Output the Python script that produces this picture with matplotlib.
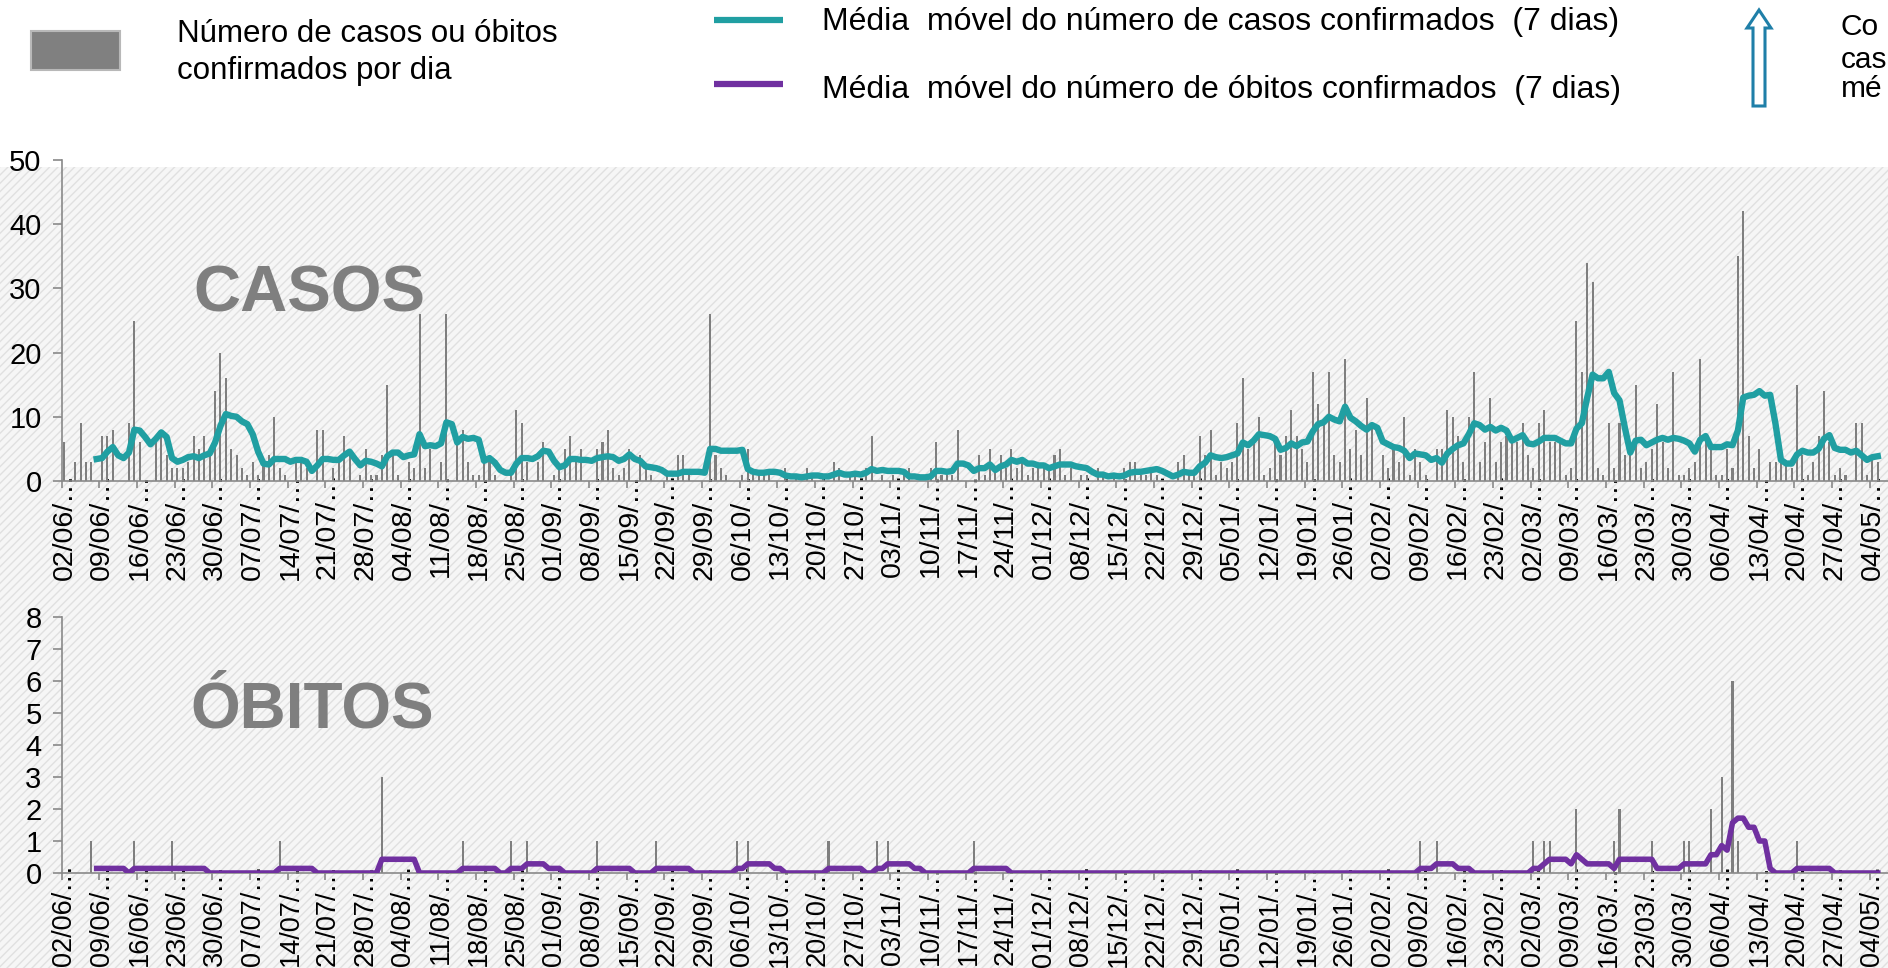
import numpy as np
import pandas as pd
import matplotlib
matplotlib.use('Agg')
import matplotlib.pyplot as plt
from matplotlib.patches import Rectangle, Polygon
from matplotlib.lines import Line2D

plt.rcParams['font.family'] = ['Liberation Sans', 'DejaVu Sans']
plt.rcParams['hatch.linewidth'] = 1.0

start_date = '2020-06-02'

# confirmed cases per day, one row per week (row date = first day)
cases = [
    6, 0, 3, 9, 3, 3, 0,        # 02/06
    7, 7, 8, 0, 0, 9, 25,       # 09/06
    6, 0, 0, 6, 7, 4, 2,        # 16/06
    2, 2, 3, 7, 5, 7, 4,        # 23/06
    14, 20, 16, 5, 4, 2, 1,     # 30/06
    3, 1, 3, 4, 10, 2, 1,       # 07/07
    0, 3, 3, 2, 0, 8, 8,        # 14/07
    0, 2, 3, 7, 4, 0, 1,        # 21/07
    5, 1, 1, 4, 15, 4, 1,       # 28/07
    0, 3, 2, 26, 2, 5, 0,       # 04/08
    3, 26, 0, 6, 8, 3, 1,       # 11/08
    1, 3, 3, 1, 0, 0, 1,        # 18/08
    11, 9, 3, 0, 3, 6, 0,       # 25/08
    1, 2, 5, 7, 3, 5, 0,        # 01/09
    0, 5, 6, 8, 2, 1, 2,        # 08/09
    5, 0, 4, 2, 1, 0, 0,        # 15/09
    1, 0, 4, 4, 1, 0, 0,        # 22/09
    0, 26, 4, 2, 1, 0, 0,       # 29/09
    1, 5, 1, 1, 1, 1, 0,        # 06/10
    0, 2, 0, 1, 0, 2, 1,        # 13/10
    0, 1, 0, 3, 2, 0, 1,        # 20/10
    1, 0, 2, 7, 0, 1, 0,        # 27/10
    1, 0, 1, 2, 0, 0, 0,        # 03/11
    2, 6, 1, 1, 1, 8, 0,        # 10/11
    0, 0, 4, 1, 5, 2, 4,        # 17/11
    2, 5, 2, 3, 1, 2, 2,        # 24/11
    2, 2, 4, 5, 1, 2, 0,        # 01/12
    1, 1, 0, 2, 1, 0, 1,        # 08/12
    0, 2, 3, 3, 1, 1, 2,        # 15/12
    1, 0, 0, 0, 3, 4, 1,        # 22/12
    1, 7, 4, 8, 1, 3, 2,        # 29/12
    3, 9, 16, 5, 6, 10, 1,      # 05/01
    2, 6, 4, 7, 11, 7, 5,       # 12/01
    3, 17, 12, 9, 17, 4, 3,     # 19/01
    19, 5, 8, 4, 13, 9, 0,      # 26/01
    4, 2, 5, 3, 10, 1, 5,       # 02/02
    3, 1, 0, 5, 5, 11, 10,      # 09/02
    7, 3, 10, 17, 3, 6, 13,     # 16/02
    3, 6, 7, 6, 6, 9, 4,        # 23/02
    2, 9, 11, 6, 6, 6, 1,       # 02/03
    2, 25, 17, 34, 31, 2, 1,    # 09/03
    9, 2, 9, 4, 4, 15, 2,       # 16/03
    3, 5, 12, 6, 2, 17, 1,      # 23/03
    1, 2, 3, 19, 6, 5, 1,       # 30/03
    1, 5, 2, 35, 42, 7, 2,      # 06/04
    5, 0, 3, 3, 3, 3, 2,        # 13/04
    15, 4, 1, 3, 7, 14, 6,      # 20/04
    1, 2, 1, 0, 9, 9, 1,        # 27/04
    4, 3,                       # 04/05
]

# confirmed deaths: day index (from 02/06/2020) and count
death_days = [5, 13, 20, 40, 59, 74, 83, 86, 99, 110, 125, 127, 142, 151, 153, 169,
              252, 255, 273, 275, 276, 281, 288, 289, 295, 301, 302, 306, 308, 310, 311, 322]
death_counts = [1, 1, 1, 1, 3, 1, 1, 1, 1, 1, 1, 1, 1, 1, 1, 1,
                1, 1, 1, 1, 1, 2, 1, 2, 1, 1, 1, 2, 3, 6, 1, 1]

n = len(cases)
days = np.arange(n)
dates = pd.date_range(start_date, periods=n, freq='D')
deaths = np.zeros(n)
deaths[death_days] = death_counts

cases_ma = pd.Series(cases, dtype=float).rolling(7).mean()
deaths_ma = pd.Series(deaths).rolling(7).mean()

label_pos = days[::7]
labels = [d.strftime('%d/%m/') + '\u2026' for d in dates[::7]]

W, H = 1888, 968
gray = '#898989'
bar_color = '#7f7f7f'
teal = '#209FA2'
purple = '#7030A0'


def px(x, y):
    return x / W, 1 - y / H


fig = plt.figure(figsize=(W / 100, H / 100), dpi=100)
fig.patch.set_facecolor('white')

# hatched background below the legend
fig.add_artist(Rectangle((0, 0), 1, 1 - 167 / H, transform=fig.transFigure,
                         facecolor='#f6f6f6', edgecolor='#e0e0e0', hatch='////',
                         lw=0, zorder=-5))

ax1 = fig.add_axes([61.7 / W, 1 - 481 / H, (W - 61.7) / W, 321 / H])
ax2 = fig.add_axes([61.7 / W, 1 - 873 / H, (W - 61.7) / W, 256 / H])

ax1.bar(days, cases, width=0.38, color=bar_color, zorder=2)
ax1.plot(days, cases_ma, color=teal, lw=4.6, zorder=3, solid_joinstyle='round')
ax1.set_ylim(0, 50)
ax1.set_yticks(range(0, 51, 10))

ax2.bar(days, deaths, width=0.38, color=bar_color, zorder=2)
ax2.plot(days, deaths_ma, color=purple, lw=4, zorder=3, solid_joinstyle='round')
ax2.set_ylim(0, 8)
ax2.set_yticks(range(0, 9))

for ax, lsize in ((ax1, 20.5), (ax2, 19.5)):
    ax.set_facecolor('none')
    ax.set_xlim(-0.5, (W - 61.7) / 5.381 - 0.5)
    ax.set_xticks(np.arange(-0.5, n, 7))
    ax.set_xticks(label_pos, minor=True)
    ax.set_xticklabels(labels, minor=True, rotation=90, fontsize=lsize)
    ax.tick_params(axis='x', which='major', length=5, width=1.2, color=gray,
                   labelbottom=False)
    ax.tick_params(axis='x', which='minor', length=0, pad=-6.5)
    ax.tick_params(axis='y', length=6.5, width=1.2, color=gray, pad=8, labelsize=21)
    for s in ('top', 'right'):
        ax.spines[s].set_visible(False)
    for s in ('left', 'bottom'):
        ax.spines[s].set_color(gray)
        ax.spines[s].set_linewidth(1.2)

fig.text(*px(193, 312), 'CASOS', fontsize=47, fontweight='bold', color='#7f7f7f',
         va='baseline')
fig.text(*px(190, 727), 'ÓBITOS', fontsize=46, fontweight='bold', color='#7f7f7f',
         va='baseline')

# legend
x0, y0 = px(31, 70)
x1, y1 = px(120, 31)
fig.add_artist(Rectangle((x0, y0), x1 - x0, y1 - y0, transform=fig.transFigure,
                         facecolor='#808080', edgecolor='#b8b8b8', lw=1.5))
fig.text(*px(177, 34), 'Número de casos ou óbitos', fontsize=22.5, va='center')
fig.text(*px(177, 71), 'confirmados por dia', fontsize=22.5, va='center')

for ly, ty, col, txt in [(20, 22, teal, 'Média  móvel do número de casos confirmados  (7 dias)'),
                         (84, 90, purple, 'Média  móvel do número de óbitos confirmados  (7 dias)')]:
    xa, ya = px(714, ly)
    xb, _ = px(783, ly)
    fig.add_artist(Line2D([xa, xb], [ya, ya], transform=fig.transFigure,
                          color=col, lw=4.5, solid_capstyle='butt'))
    fig.text(*px(822, ty), txt, fontsize=23, va='center')

arrow_pts = [(1753, 106), (1753, 28), (1747, 28), (1759, 10), (1771, 28),
             (1765, 28), (1765, 106)]
fig.add_artist(Polygon([px(a, b) for a, b in arrow_pts], closed=True,
                       transform=fig.transFigure, facecolor='white',
                       edgecolor='#1F7FA8', lw=2.2))
# legend note is cut by the right edge of the original picture
fig.text(*px(1841, 27), 'Co', fontsize=21.5, va='center')
fig.text(*px(1841, 60), 'cas', fontsize=21.5, va='center')
fig.text(*px(1841, 89), 'mé', fontsize=21.5, va='center')

fig.savefig('out.png', dpi=100)
